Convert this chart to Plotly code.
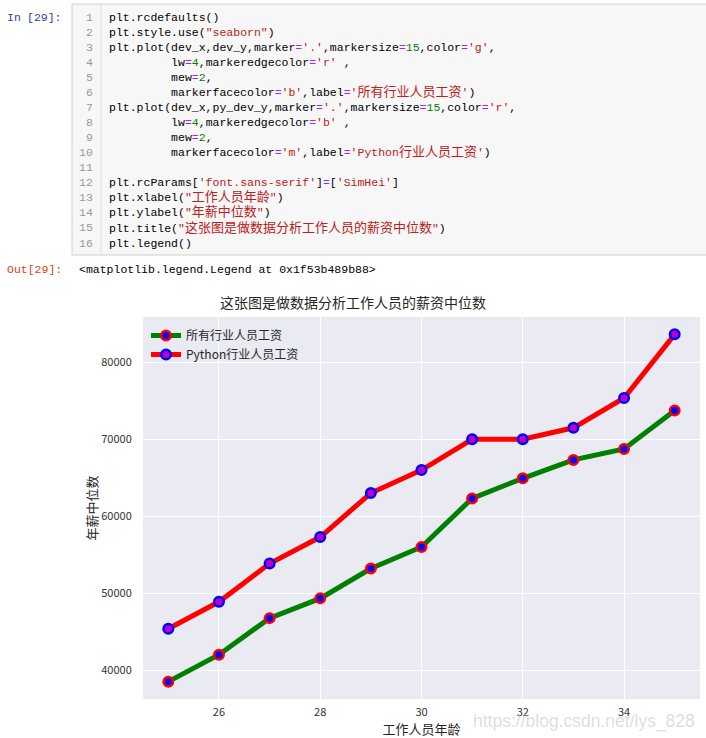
import plotly.graph_objects as go

# ---- data ----
dev_x = [25, 26, 27, 28, 29, 30, 31, 32, 33, 34, 35]
dev_y = [38496, 42000, 46752, 49320, 53200, 56000, 62316, 64928, 67317, 68748, 73752]
py_dev_y = [45372, 48876, 53850, 57287, 63016, 65998, 70003, 70000, 71496, 75370, 83640]
x_ticks = [26, 28, 30, 32, 34]
y_ticks = [40000, 50000, 60000, 70000, 80000]
label_all = "所有行业人员工资"
label_py = "Python行业人员工资"
title_text = "这张图是做数据分析工作人员的薪资中位数"
xlabel_text = "工作人员年龄"
ylabel_text = "年薪中位数"

W, H = 706, 738
ML, MR, MT, MB = 143, 6, 317, 39
PW, PH = W - ML - MR, H - MT - MB


def px(x):
    return (x - ML) / PW


def py(y):
    return (H - MB - y) / PH


fig = go.Figure()
fig.add_trace(go.Scatter(
    x=dev_x, y=dev_y, mode="lines+markers", name=label_all,
    line=dict(color="#008000", width=5),
    marker=dict(size=9.5, color="#0000FF", line=dict(color="#FF0000", width=2.5)),
))
fig.add_trace(go.Scatter(
    x=dev_x, y=py_dev_y, mode="lines+markers", name=label_py,
    line=dict(color="#FF0000", width=5),
    marker=dict(size=9.5, color="#BF00BF", line=dict(color="#0000FF", width=2.5)),
))

allx = dev_x
ally = dev_y + py_dev_y
xpad = 0.05 * (max(allx) - min(allx))
ypad = 0.05 * (max(ally) - min(ally))

CJK = "Noto Sans CJK SC"
fig.update_layout(
    width=W, height=H,
    margin=dict(l=ML, r=MR, t=MT, b=MB, pad=0),
    paper_bgcolor="white",
    plot_bgcolor="#EAEAF2",
    font=dict(family=CJK, color="#262626", size=11),
    showlegend=True,
    legend=dict(x=px(146), y=py(321), xanchor="left", yanchor="top",
                bgcolor="rgba(0,0,0,0)", font=dict(size=12, family=CJK, color="#262626"),
                itemwidth=30, tracegroupgap=0),
    title=dict(text=title_text, x=px(421.5), xanchor="center", y=1 - 303 / H, yanchor="middle",
               font=dict(size=14, family=CJK, color="#262626")),
    xaxis=dict(range=[min(allx) - xpad, max(allx) + xpad], tickvals=x_ticks, automargin=False,
               showgrid=True, gridcolor="white", gridwidth=1.3, zeroline=False,
               showline=False, ticks="outside", ticklen=3, tickcolor="rgba(0,0,0,0)",
               tickfont=dict(size=11, color="#333333"),
               title=dict(text=xlabel_text, font=dict(size=13, color="#262626"), standoff=9)),
    yaxis=dict(range=[min(ally) - ypad, max(ally) + ypad], tickvals=y_ticks, automargin=False,
               tickformat="d",
               showgrid=True, gridcolor="white", gridwidth=1.3, zeroline=False,
               showline=False, ticks="outside", ticklen=8, tickcolor="rgba(0,0,0,0)",
               tickfont=dict(size=11, color="#333333"),
               title=dict(text=ylabel_text, font=dict(size=13, color="#262626"), standoff=0)),
)

# ---- notebook cell (code above the chart) ----
C_N, C_S, C_O, C_NUM = "#000000", "#BA2121", "#AA22FF", "#008000"
IND = " " * 9


def seg(t, c):
    return f'<span style="color:{c}">{t}</span>'


def cjk(t, c):
    return f'<span style="color:{c};font-size:13px">{t}</span>'


code_lines = [
    seg("plt.rcdefaults()", C_N),
    seg("plt.style.use(", C_N) + seg('"seaborn"', C_S) + seg(")", C_N),
    seg("plt.plot(dev_x,dev_y,marker", C_N) + seg("=", C_O) + seg("'.'", C_S) + seg(",markersize", C_N)
    + seg("=", C_O) + seg("15", C_NUM) + seg(",color", C_N) + seg("=", C_O) + seg("'g'", C_S) + seg(",", C_N),
    seg(IND + "lw", C_N) + seg("=", C_O) + seg("4", C_NUM) + seg(",markeredgecolor", C_N) + seg("=", C_O)
    + seg("'r'", C_S) + seg(" ,", C_N),
    seg(IND + "mew", C_N) + seg("=", C_O) + seg("2", C_NUM) + seg(",", C_N),
    seg(IND + "markerfacecolor", C_N) + seg("=", C_O) + seg("'b'", C_S) + seg(",label", C_N) + seg("=", C_O)
    + seg("'", C_S) + cjk(label_all, C_S) + seg("'", C_S) + seg(")", C_N),
    seg("plt.plot(dev_x,py_dev_y,marker", C_N) + seg("=", C_O) + seg("'.'", C_S) + seg(",markersize", C_N)
    + seg("=", C_O) + seg("15", C_NUM) + seg(",color", C_N) + seg("=", C_O) + seg("'r'", C_S) + seg(",", C_N),
    seg(IND + "lw", C_N) + seg("=", C_O) + seg("4", C_NUM) + seg(",markeredgecolor", C_N) + seg("=", C_O)
    + seg("'b'", C_S) + seg(" ,", C_N),
    seg(IND + "mew", C_N) + seg("=", C_O) + seg("2", C_NUM) + seg(",", C_N),
    seg(IND + "markerfacecolor", C_N) + seg("=", C_O) + seg("'m'", C_S) + seg(",label", C_N) + seg("=", C_O)
    + seg("'Python", C_S) + cjk("行业人员工资", C_S) + seg("'", C_S) + seg(")", C_N),
    "",
    seg("plt.rcParams[", C_N) + seg("'font.sans-serif'", C_S) + seg("]", C_N) + seg("=", C_O)
    + seg("[", C_N) + seg("'SimHei'", C_S) + seg("]", C_N),
    seg("plt.xlabel(", C_N) + seg('"', C_S) + cjk(xlabel_text, C_S) + seg('"', C_S) + seg(")", C_N),
    seg("plt.ylabel(", C_N) + seg('"', C_S) + cjk(ylabel_text, C_S) + seg('"', C_S) + seg(")", C_N),
    seg("plt.title(", C_N) + seg('"', C_S) + cjk(title_text, C_S) + seg('"', C_S) + seg(")", C_N),
    seg("plt.legend()", C_N),
]

MONO = "Liberation Mono, " + CJK + ", monospace"
shapes = [
    dict(type="rect", xref="paper", yref="paper", x0=px(72), x1=px(710), y0=py(255), y1=py(4),
         fillcolor="#F7F7F7", line=dict(color="#CFCFCF", width=1), layer="below"),
    dict(type="line", xref="paper", yref="paper", x0=px(101), x1=px(101), y0=py(255), y1=py(4.5),
         line=dict(color="#DDDDDD", width=1)),
]
annotations = []
for i, line in enumerate(code_lines):
    yc = 17.3 + i * 15.05
    annotations.append(dict(text=str(i + 1), xref="paper", yref="paper", x=px(95), y=py(yc),
                            xanchor="right", yanchor="middle", showarrow=False,
                            font=dict(family=MONO, size=11.5, color="#999999")))
    if line:
        annotations.append(dict(text=line, xref="paper", yref="paper", x=px(107), y=py(yc),
                                xanchor="left", yanchor="middle", showarrow=False, align="left",
                                font=dict(family=MONO, size=11.5, color="#000000")))

annotations += [
    dict(text="In", xref="paper", yref="paper", x=px(5), y=py(17.5), xanchor="left", yanchor="middle",
         showarrow=False, font=dict(family=MONO, size=11.5, color="#303F9F")),
    dict(text="[29]:", xref="paper", yref="paper", x=px(64), y=py(17.5), xanchor="right", yanchor="middle",
         showarrow=False, font=dict(family=MONO, size=11.5, color="#303F9F")),
    dict(text="Out[29]:", xref="paper", yref="paper", x=px(64), y=py(269.5), xanchor="right", yanchor="middle",
         showarrow=False, font=dict(family=MONO, size=11.5, color="#D84315")),
    dict(text="&lt;matplotlib.legend.Legend at 0x1f53b489b88&gt;", xref="paper", yref="paper",
         x=px(77), y=py(269.5), xanchor="left", yanchor="middle",
         showarrow=False, font=dict(family=MONO, size=11.5, color="#000000")),
    dict(text="https://blog.csdn.net/lys_828", xref="paper", yref="paper", x=px(697), y=py(721),
         xanchor="right", yanchor="middle", showarrow=False,
         font=dict(family="Liberation Sans, Arial, sans-serif", size=17.5, color="rgba(200,200,200,0.6)")),
]

fig.update_layout(shapes=shapes, annotations=annotations)
fig.write_html("out.html")
